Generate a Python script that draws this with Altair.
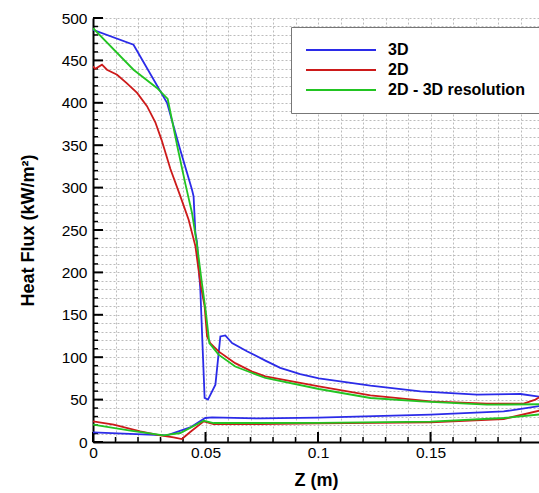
import altair as alt
import pandas as pd

# ---------------- data ----------------
SERIES = ["3D", "2D", "2D - 3D resolution"]
COLORS = ["#2b2be8", "#cc1a1a", "#22c422"]

BLUE_UPPER_Z = [0, 0.018, 0.0329, 0.0385, 0.044, 0.0447, 0.0455, 0.0462, 0.0477, 0.0496, 0.0511,
                0.0544, 0.0566, 0.0588, 0.0618, 0.0684, 0.0766, 0.0832, 0.0921, 0.1004, 0.1233,
                0.1455, 0.1707, 0.185, 0.190, 0.1985]
BLUE_UPPER_Q = [486, 468.5, 400, 347, 297.5, 289.6, 246.5, 236, 179.6, 52, 50,
                67.6, 124.5, 125.7, 116.7, 107, 96, 87.5, 80, 75, 66.4,
                59.7, 55.8, 56.4, 56.6, 53.5]
BLUE_LOWER_Z = [0, 0.0329, 0.038, 0.0432, 0.0499, 0.0529, 0.0744, 0.1, 0.150, 0.1825, 0.1985]
BLUE_LOWER_Q = [11.3, 7.8, 12.5, 17.2, 28.3, 29, 27.8, 28.8, 32.2, 36, 42.5]

RED_UPPER_Z = [0, 0.001, 0.004, 0.0062, 0.0107, 0.0151, 0.0196, 0.024, 0.0277, 0.0305, 0.0344,
               0.0388, 0.0425, 0.0455, 0.0477, 0.0496, 0.0507, 0.0521, 0.0558, 0.0632, 0.0707,
               0.0766, 0.1004, 0.1233, 0.150, 0.175, 0.1914, 0.1966, 0.1985]
RED_UPPER_Q = [443, 440, 445, 439, 433, 423, 411.6, 396, 377, 356, 322,
               290, 262, 231, 187.5, 160, 124.5, 116.7, 106.8, 93, 83,
               77.4, 65.6, 55, 47.9, 45.2, 45.2, 50, 53]
RED_LOWER_Z = [0, 0.0092, 0.021, 0.0299, 0.0358, 0.0395, 0.0432, 0.0492, 0.0536, 0.0744, 0.1,
               0.150, 0.1825, 0.1985]
RED_LOWER_Q = [24.3, 20.4, 12.5, 7.8, 5.4, 3.5, 11.8, 24.3, 21.2, 21.2, 22,
               23.1, 27.1, 37]

GREEN_UPPER_Z = [0, 0.018, 0.0284, 0.0332, 0.0376, 0.041, 0.044, 0.0462, 0.0484, 0.0502, 0.0517,
                 0.0558, 0.0632, 0.0707, 0.0766, 0.1004, 0.1233, 0.1455, 0.175, 0.1985]
GREEN_UPPER_Q = [488, 439, 417.5, 404.5, 347, 305, 270, 233, 187.5, 152, 116.7,
                 103, 89, 81.4, 75.5, 62.5, 51.9, 47.9, 44, 44.5]
GREEN_LOWER_Z = [0, 0.0166, 0.0314, 0.0388, 0.0492, 0.0536, 0.0744, 0.1, 0.150, 0.1825, 0.1985]
GREEN_LOWER_Q = [20.4, 13.3, 7.8, 10.6, 25.1, 22.4, 22.4, 22.6, 24, 28.3, 32.5]

X_MAJOR = [0, 0.05, 0.1, 0.15]
X_MINOR = [0.01, 0.02, 0.03, 0.04, 0.06, 0.07, 0.08, 0.09, 0.11, 0.12, 0.13, 0.14,
           0.16, 0.17, 0.18, 0.19]
Y_MAJOR = [0, 50, 100, 150, 200, 250, 300, 350, 400, 450, 500]
Y_MINOR = [v for v in range(0, 501, 10) if v % 50 != 0]

X_GRID = sorted(X_MAJOR + X_MINOR)
Y_GRID = sorted(Y_MAJOR + Y_MINOR)

rows = []
branches = [
    ("3D", "upper", BLUE_UPPER_Z, BLUE_UPPER_Q),
    ("3D", "lower", BLUE_LOWER_Z, BLUE_LOWER_Q),
    ("2D", "upper", RED_UPPER_Z, RED_UPPER_Q),
    ("2D", "lower", RED_LOWER_Z, RED_LOWER_Q),
    ("2D - 3D resolution", "upper", GREEN_UPPER_Z, GREEN_UPPER_Q),
    ("2D - 3D resolution", "lower", GREEN_LOWER_Z, GREEN_LOWER_Q),
]
for name, br, zs, qs in branches:
    for i, (z, q) in enumerate(zip(zs, qs)):
        rows.append({"series": name, "branch": name + "-" + br, "idx": i, "z": z, "q": q})
df = pd.DataFrame(rows)

# ---------------- styling ----------------
FONT = "Liberation Sans"
W, H = 446, 424

xscale = alt.Scale(domain=[0, 0.1982], nice=False, zero=False)
yscale = alt.Scale(domain=[0, 500], nice=False)

xaxis = alt.Axis(
    values=X_GRID, title="Z (m)",
    labelExpr="abs(datum.value*20 - round(datum.value*20)) < 0.000001 ? format(datum.value, '~g') : ''",
    labelOverlap=False, labelFlush=False, labelFont=FONT, labelFontSize=15.5, labelColor="black",
    labelPadding=3, ticks=False,
    grid=True, gridColor="#bcbcbc", gridDash=[2, 2], gridWidth=1,
    domainColor="black", domainWidth=2,
    titleFont=FONT, titleFontSize=18, titleFontWeight="bold", titleColor="black",
    titleY=29, titleBaseline="top",
)
yaxis = alt.Axis(
    values=Y_GRID, title="Heat Flux (kW/m²)",
    labelExpr="datum.value % 50 == 0 ? datum.label : ''",
    labelOverlap=False, labelFlush=False, labelFont=FONT, labelFontSize=15.5, labelColor="black",
    labelPadding=6, ticks=False,
    grid=True, gridColor="#bcbcbc", gridDash=[2, 2], gridWidth=1,
    domainColor="black", domainWidth=2,
    titleFont=FONT, titleFontSize=18, titleFontWeight="bold", titleColor="black",
    titleAngle=270, titleX=-65, titleY=H / 2, titleAlign="center", titleBaseline="middle",
)

lines = alt.Chart(df).mark_line(strokeWidth=1.8, clip=True).encode(
    x=alt.X("z:Q", scale=xscale, axis=xaxis),
    y=alt.Y("q:Q", scale=yscale, axis=yaxis),
    color=alt.Color(
        "series:N",
        scale=alt.Scale(domain=SERIES, range=COLORS),
        sort=SERIES,
        legend=alt.Legend(
            title=None, orient="none", legendX=198, legendY=9,
            symbolType="M-1.333,0H10.333", symbolSize=144, symbolStrokeWidth=2,
            labelFont=FONT, labelFontSize=16, labelFontWeight="bold", labelColor="black",
            labelOffset=66, padding=15, rowPadding=4,
            fillColor="white", strokeColor="#777777",
        ),
    ),
    detail="branch:N",
    order="idx:Q",
)

ytick_major = alt.Chart(pd.DataFrame({"q": Y_MAJOR})).mark_rule(color="black", strokeWidth=2).encode(
    y=alt.Y("q:Q", scale=yscale, axis=yaxis), x=alt.value(0), x2=alt.value(10))
ytick_minor = alt.Chart(pd.DataFrame({"q": Y_MINOR})).mark_rule(color="black", strokeWidth=1.5).encode(
    y=alt.Y("q:Q", scale=yscale, axis=yaxis), x=alt.value(0), x2=alt.value(5))
xtick_major = alt.Chart(pd.DataFrame({"z": X_MAJOR})).mark_rule(color="black", strokeWidth=2).encode(
    x=alt.X("z:Q", scale=xscale, axis=xaxis), y=alt.value(H), y2=alt.value(H - 10))
xtick_minor = alt.Chart(pd.DataFrame({"z": X_MINOR})).mark_rule(color="black", strokeWidth=1.5).encode(
    x=alt.X("z:Q", scale=xscale, axis=xaxis), y=alt.value(H), y2=alt.value(H - 5))

chart = alt.layer(ytick_major, ytick_minor, xtick_major, xtick_minor, lines).properties(
    width=W, height=H,
    padding={"left": 93, "top": 18, "right": 0, "bottom": 51},
    autosize=alt.AutoSizeParams(type="none"),
    background="white",
).configure_view(strokeWidth=0)

chart.save("out.html", embed_options={"renderer": "svg", "actions": False})
